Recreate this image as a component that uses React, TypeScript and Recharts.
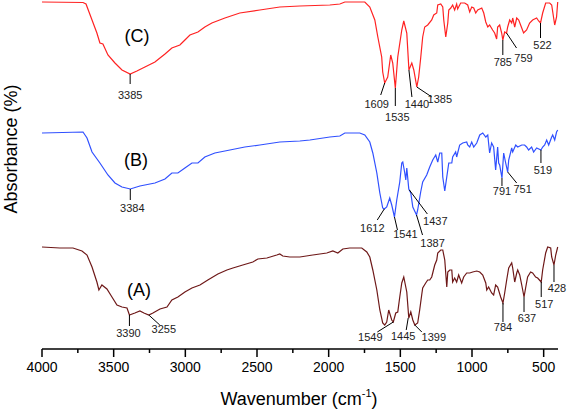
import React from 'react';
import { ComposedChart, Line, XAxis, YAxis, Scatter } from 'recharts';

// Wavenumber (cm-1) / absorbance (arbitrary offset units)
const C_WN = [4000,3714,3693,3651,3617,3596,3575,3540,3491,3442,3385,3338,3282,3212,3142,3094,3038,3003,2968,2912,2864,2815,2724,2620,2480,2341,2201,1992,1922,1887,1748,1713,1678,1657,1630,1623,1609,1588,1567,1553,1535,1518,1490,1476,1455,1440,1420,1406,1385,1372,1358,1344,1330,1309,1281,1267,1246,1239,1218,1204,1197,1183,1169,1162,1148,1135,1121,1107,1100,1079,1051,1030,1016,1002,988,974,960,932,918,904,890,877,856,842,828,821,807,793,785,772,759,751,737,723,716,702,688,674,653,640,619,598,577,549,535,522,507,486,458,444,423,410,402];
const C_A = [347,346.5,345,329,316,306,305,294,286,279,275,278,282,287,295,301,304,309,314,317,322,326,331,336,339,342,343,344,345,347,347,342,329,312,292,277,266,272,294,286,261,292,319,328,316,279,286,279,262,272,291,312,322,324,329,334,336,344,345,342,329,312,326,339,341,344,339,345,340,346,346,344,337,342,341,336,339,341,336,327,322,324,319,316,310,322,324,316,309,317,316,322,329,326,331,322,331,329,321,316,319,326,329,331,328,326,336,346,346,344,324,332,347];

const B_WN = [4000,3714,3686,3651,3596,3540,3491,3442,3384,3317,3212,3142,3094,3052,3003,2954,2912,2864,2794,2689,2585,2480,2341,2201,2131,1992,1922,1887,1783,1748,1713,1692,1664,1643,1623,1612,1595,1574,1560,1541,1525,1504,1490,1483,1469,1462,1455,1441,1427,1413,1387,1379,1358,1344,1316,1295,1274,1253,1239,1225,1211,1204,1190,1176,1162,1141,1135,1114,1107,1086,1065,1037,1030,1016,1002,988,967,946,925,904,890,877,863,849,835,821,814,807,791,779,765,751,744,723,716,695,681,653,633,619,605,584,570,549,519,507,493,479,465,444,437,423,410,402];
const B_A = [216,217,211,197,186,174,166,162,160,163,166,170,176,176,181,186,186,192,196,199,202,204,207,208,209,212,213,216,216,214,207,196,176,156,141,140,142,151,144,132,149,167,186,187,176,169,181,160,156,142,134,139,157,167,174,182,189,194,187,196,196,172,158,172,186,186,192,197,192,204,206,207,204,202,207,202,206,214,216,212,214,196,206,202,179,202,186,184,171,196,186,177,189,201,197,204,202,204,204,202,199,202,197,201,199,202,204,209,204,212,214,209,217,219];

const A_WN = [4000,3875,3784,3721,3686,3651,3617,3603,3582,3547,3512,3477,3442,3407,3390,3352,3317,3289,3255,3226,3177,3128,3094,3052,3003,2954,2898,2843,2773,2710,2668,2599,2529,2494,2431,2362,2341,2320,2271,2201,2111,2013,1971,1936,1901,1853,1769,1734,1713,1692,1664,1643,1623,1609,1595,1581,1560,1549,1532,1518,1504,1490,1476,1455,1441,1427,1413,1399,1379,1365,1351,1344,1323,1309,1295,1281,1274,1260,1246,1239,1218,1204,1190,1176,1169,1155,1141,1135,1121,1107,1093,1072,1058,1037,1016,995,967,946,925,904,897,884,863,849,835,821,800,784,772,758,744,723,716,702,688,681,667,653,637,626,612,591,577,556,542,517,507,486,472,451,444,428,416,402];
const A_A = [102,101,101,98,94,82,67,59,64,60,52,44,42,41,34,36,38,36,34,36,40,42,49,52,57,61,64,69,75,79,81,84,87,90,91,94,95,93,92,92,94,96,98,96,100,101,101,97,92,79,59,39,26,24,27,39,29,27,36,37,52,66,72,57,31,37,29,24,26,39,54,61,66,69,69,72,76,84,89,96,99,99,89,62,77,79,79,67,71,67,74,66,72,76,76,77,78,77,74,66,59,62,56,54,64,62,52,46,56,69,81,86,81,67,76,79,74,64,52,61,72,77,76,72,71,67,79,96,102,101,92,84,94,102];

// Annotated peaks
const C_PEAKS = [3385,1609,1535,1440,1385,785,759,522];
const C_PEAK_A = [275,266,261,279,262,309,316,326];
const B_PEAKS = [3384,1612,1541,1437,1387,791,751,519];
const B_PEAK_A = [160,140,132,159,134,171,177,199];
const A_PEAKS = [3390,3255,1549,1445,1399,784,637,517,428];
const A_PEAK_A = [34,34,27,31,24,46,52,67,84];

const X_TICKS = [4000,3750,3500,3250,3000,2750,2500,2250,2000,1750,1500,1250,1000,750,500];

// leader line end (lx, ly) and label centre (tx, ty) offsets in px
const LEADERS: Record<string, [number, number, number, number]> = {
  C3385: [0, 10, 0, 21], C1609: [-4, 12, -8, 21], C1535: [0, 18, 2, 29], C1440: [3, 27, 8, 34],
  C1385: [15, 10, 23, 12], C785: [0, 15, 0, 22], C759: [10, 15, 17, 25], C522: [0, 15, 2, 22],
  B3384: [0, 11, 2, 19], B1612: [-7, 11, -12, 19], B1541: [3, 13, 11, 17], B1437: [18, 24, 26, 31],
  B1387: [6, 20, 16, 28], B791: [0, 8, 0, 13], B751: [9, 11, 15, 17], B519: [0, 13, 2, 20],
  A3390: [0, 11, -1, 18], A3255: [11, 10, 15, 14], A1549: [-16, 10, -23, 15], A1445: [-2, 12, -5, 18],
  A1399: [7, 7, 19, 12], A784: [0, 19, 0, 24], A637: [0, 15, 3, 21], A517: [0, 15, 3, 22], A428: [0, 17, 3, 23],
};

const toRows = (wn: number[], a: number[]) => wn.map((w, i) => ({ wn: w, a: a[i] }));
const toPeaks = (key: string, wn: number[], a: number[]) => wn.map((w, i) => ({ wn: w, a: a[i], id: key + w, text: String(w) }));

const seriesC = toRows(C_WN, C_A);
const seriesB = toRows(B_WN, B_A);
const seriesA = toRows(A_WN, A_A);

const peakShape = (props: any) => {
  const { cx, cy, payload } = props;
  const l = LEADERS[payload.id] || [0, 10, 0, 18];
  return (
    <g>
      <line x1={cx} y1={cy} x2={cx + l[0]} y2={cy + l[1]} stroke="#000" strokeWidth={1} />
      <text x={cx + l[2]} y={cy + l[3] + 4} textAnchor="middle" fontSize={11} fill="#222"
        fontFamily="Liberation Sans, Arial, sans-serif">{payload.text}</text>
    </g>
  );
};

const XTick = (props: any) => {
  const { x, y, payload } = props;
  const major = payload.value % 500 === 0;
  return (
    <g>
      <line x1={x} y1={y} x2={x} y2={y + (major ? 8 : 4)} stroke="#000" strokeWidth={1.5} />
      {major && (
        <text x={x} y={y + 23} textAnchor="middle" fontSize={14} fill="#000"
          fontFamily="Liberation Sans, Arial, sans-serif">{payload.value}</text>
      )}
    </g>
  );
};

const font = 'Liberation Sans, Arial, sans-serif';

export default function App() {
  return (
    <div style={{ position: 'absolute', left: 0, top: 0, width: 569, height: 411, background: '#fff' }}>
      <ComposedChart width={569} height={411} margin={{ top: 0, right: 11, bottom: 12, left: 42 }} style={{ overflow: 'visible' }}>
        <XAxis type="number" dataKey="wn" domain={[400, 4000]} reversed ticks={X_TICKS} interval={0}
          tick={<XTick />} tickLine={false} tickSize={0} tickMargin={0} height={50}
          axisLine={{ stroke: '#000', strokeWidth: 1.5 }} />
        <YAxis type="number" dataKey="a" domain={[0, 349]} hide width={0} />
        <Line data={seriesC} dataKey="a" type="linear" stroke="#ff2222" strokeWidth={1.2} dot={false} isAnimationActive={false} />
        <Line data={seriesB} dataKey="a" type="linear" stroke="#3050ff" strokeWidth={1.2} dot={false} isAnimationActive={false} />
        <Line data={seriesA} dataKey="a" type="linear" stroke="#6e1818" strokeWidth={1.2} dot={false} isAnimationActive={false} />
        <Scatter data={toPeaks('C', C_PEAKS, C_PEAK_A)} dataKey="a" shape={peakShape} isAnimationActive={false} />
        <Scatter data={toPeaks('B', B_PEAKS, B_PEAK_A)} dataKey="a" shape={peakShape} isAnimationActive={false} />
        <Scatter data={toPeaks('A', A_PEAKS, A_PEAK_A)} dataKey="a" shape={peakShape} isAnimationActive={false} />
      </ComposedChart>
      <div style={{ position: 'absolute', left: 0, top: 0, width: 569, height: 411, pointerEvents: 'none' }}>
        <svg width={569} height={411} style={{ position: 'absolute', left: 0, top: 0 }}>
          <text x={137} y={42} textAnchor="middle" fontSize={18} fontFamily={font} fill="#000">(C)</text>
          <text x={136} y={166} textAnchor="middle" fontSize={18} fontFamily={font} fill="#000">(B)</text>
          <text x={139} y={296} textAnchor="middle" fontSize={18} fontFamily={font} fill="#000">(A)</text>
          <text transform="translate(17,149) rotate(-90)" textAnchor="middle" fontSize={18} fontFamily={font} fill="#000">Absorbance (%)</text>
          <text x={299} y={405} textAnchor="middle" fontSize={18} fontFamily={font} fill="#000">
            Wavenumber (cm<tspan fontSize={11} dy={-8}>-1</tspan><tspan dy={8}>)</tspan>
          </text>
        </svg>
      </div>
    </div>
  );
}
